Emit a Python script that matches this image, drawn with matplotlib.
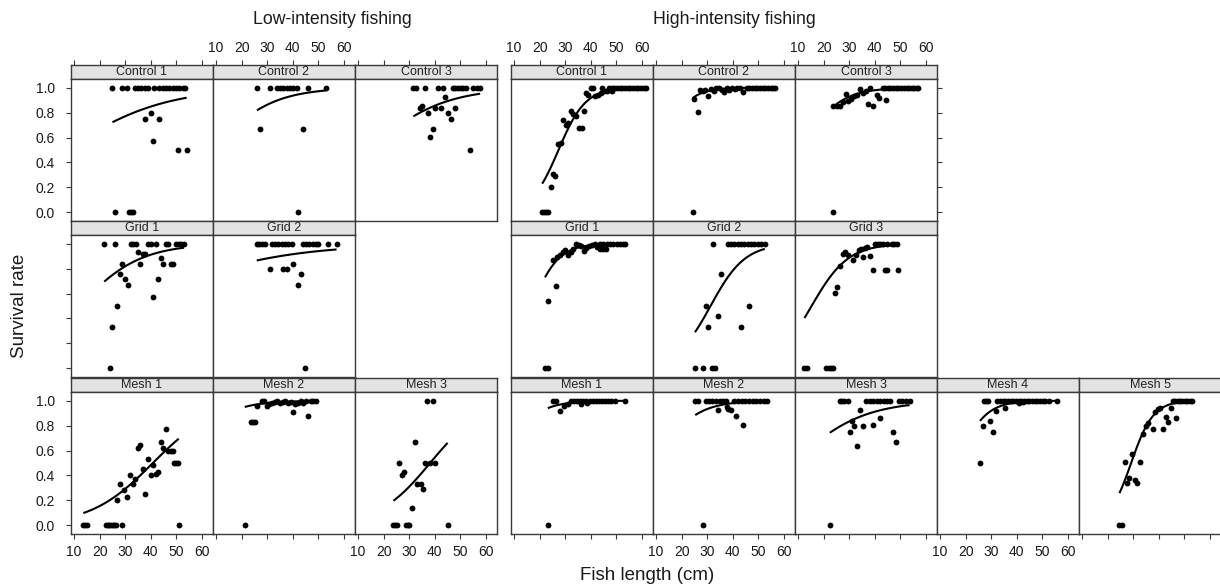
import numpy as np
import matplotlib
matplotlib.use("Agg")
import matplotlib.pyplot as plt

plt.rcParams['font.family'] = ['Liberation Sans', 'DejaVu Sans']

# ---------------- data ----------------
x_ticks = [10, 20, 30, 40, 50, 60]
y_ticks = [0.0, 0.2, 0.4, 0.6, 0.8, 1.0]
y_ticklabels = ["0.0", "0.2", "0.4", "0.6", "0.8", "1.0"]

# Low-intensity fishing
lo_c1_x = [25.0, 28.9, 30.6, 33.7, 35.0, 36.3, 37.6, 38.9, 41.3, 43.3, 44.6, 45.9, 47.2, 48.5, 49.8, 51.1, 52.4, 53.4,
           37.9, 43.0, 39.9, 41.0, 50.7, 54.0, 26.0, 31.6, 32.3, 33.2]
lo_c1_y = [1, 1, 1, 1, 1, 1, 1, 1, 1, 1, 1, 1, 1, 1, 1, 1, 1, 1,
           0.75, 0.75, 0.80, 0.57, 0.50, 0.50, 0, 0, 0, 0]
lo_c1_fit = (-0.316, 0.051)

lo_c2_x = [26.0, 31.0, 33.7, 35.0, 36.3, 37.6, 38.9, 40.2, 41.5, 46.1, 53.0, 27.1, 44.1, 41.9]
lo_c2_y = [1, 1, 1, 1, 1, 1, 1, 1, 1, 1, 1, 0.67, 0.67, 0]
lo_c2_fit = (-0.694, 0.0846)

lo_c3_x = [31.6, 32.7, 36.2, 41.1, 43.3, 47.0, 48.0, 49.1, 50.1, 51.1, 52.2, 55.0, 56.4, 57.7,
           34.1, 35.1, 37.2, 39.2, 38.2, 40.1, 42.3, 44.0, 45.0, 46.2, 48.0, 53.9]
lo_c3_y = [1, 1, 1, 1, 1, 1, 1, 1, 1, 1, 1, 1, 1, 1,
           0.836, 0.855, 0.80, 0.668, 0.603, 0.836, 0.836, 0.925, 0.80, 0.75, 0.836, 0.50]
lo_c3_fit = (-0.94, 0.068)

lo_g1_x = [21.8, 26.0, 32.1, 33.2, 34.2, 38.9, 40.0, 42.0, 45.8, 46.8, 49.8, 50.9, 51.9, 53.0,
           34.9, 36.8, 37.9, 35.9, 28.9, 28.0, 29.9, 31.0, 26.9, 25.0, 24.1, 40.7, 42.9, 43.9, 44.9, 47.8, 48.8]
lo_g1_y = [1, 1, 1, 1, 1, 1, 1, 1, 1, 1, 1, 1, 1, 1,
           0.933, 0.92, 0.92, 0.84, 0.84, 0.76, 0.72, 0.67, 0.50, 0.33, 0, 0.575, 0.72, 0.885, 0.84, 0.84, 0.84]
lo_g1_fit = (-0.977, 0.0828)

lo_g2_x = [25.9, 26.9, 28.0, 29.1, 31.8, 33.0, 34.3, 35.7, 37.0, 38.2, 39.6, 43.9, 45.2, 46.5, 47.8, 49.1, 50.0,
           53.9, 57.1, 31.1, 36.0, 37.9, 40.1, 43.1, 42.0, 44.9]
lo_g2_y = [1, 1, 1, 1, 1, 1, 1, 1, 1, 1, 1, 1, 1, 1, 1, 1, 1,
           1, 1, 0.80, 0.80, 0.80, 0.84, 0.76, 0.67, 0]
lo_g2_fit = (0.889, 0.0375)

lo_m1_x = [13.6, 14.3, 15.2, 22.5, 23.2, 23.8, 24.5, 25.1, 25.8, 26.4, 28.9, 50.9,
           26.9, 28.0, 29.7, 30.8, 31.9, 32.9, 33.8, 34.9, 35.8, 37.1, 37.9, 38.8, 40.0, 40.9, 41.9, 42.8,
           43.9, 44.9, 45.8, 46.8, 47.8, 48.8, 49.2, 49.8, 50.5]
lo_m1_y = [0, 0, 0, 0, 0, 0, 0, 0, 0, 0, 0, 0,
           0.20, 0.334, 0.28, 0.23, 0.40, 0.33, 0.37, 0.62, 0.645, 0.45, 0.25, 0.53, 0.40, 0.48, 0.41, 0.43,
           0.67, 0.62, 0.77, 0.60, 0.60, 0.60, 0.50, 0.50, 0.50]
lo_m1_fit = (-3.33, 0.0816)

lo_m2_x = [21.2, 23.6, 24.3, 25.1, 25.9, 27.8, 28.9, 29.8, 30.8, 31.9, 32.9, 33.9, 35.0, 36.0, 37.1, 38.1,
           39.2, 40.2, 41.0, 42.0, 43.1, 44.1, 45.2, 46.1, 47.0, 48.0, 49.1]
lo_m2_y = [0, 0.83, 0.83, 0.83, 0.96, 1.0, 1.0, 0.96, 0.97, 0.98, 0.99, 1.0, 0.98, 0.99, 1.0, 0.98,
           0.99, 0.91, 0.97, 0.98, 1.0, 0.98, 1.0, 0.88, 1.0, 1.0, 1.0]
lo_m2_fit = (0.46, 0.117)

lo_m3_x = [23.8, 24.5, 25.1, 28.8, 29.4, 30.0, 45.0, 26.1, 27.1, 28.0, 31.1, 32.1, 32.9, 34.5, 35.3, 36.2,
           37.1, 39.2, 38.1, 40.1]
lo_m3_y = [0, 0, 0, 0, 0, 0, 0, 0.5, 0.40, 0.43, 0.14, 0.67, 0.33, 0.33, 0.29, 0.5,
           1.0, 1.0, 0.5, 0.5]
lo_m3_fit = (-3.74, 0.098)

# High-intensity fishing
hi_c1_x = [21.0, 21.7, 22.4, 23.1, 24.3, 25.1, 26.0, 27.3, 28.2, 29.3, 30.2, 31.2, 32.3, 33.2, 34.1, 35.4,
           36.4, 37.2, 38.1, 39.0, 40.0, 41.0, 41.6, 42.7, 44.0, 45.0, 44.3, 46.2, 47.5, 48.2,
           47.1, 48.1, 49.2, 50.2, 51.3, 52.3, 53.4, 54.4, 55.4, 56.5, 57.5, 58.6, 59.6, 60.6, 61.4]
hi_c1_y = [0, 0, 0, 0, 0.20, 0.31, 0.29, 0.55, 0.56, 0.74, 0.70, 0.72, 0.81, 0.79, 0.77, 0.68,
           0.68, 0.81, 0.96, 0.94, 1.0, 1.0, 0.93, 0.945, 0.96, 0.97, 1.0, 0.97, 0.985, 0.97,
           1, 1, 1, 1, 1, 1, 1, 1, 1, 1, 1, 1, 1, 1, 1]
hi_c1_fit = (-5.2, 0.19)

hi_c2_x = [24.3, 26.4, 25.0, 27.2, 28.2, 29.3, 30.4, 31.5, 32.5, 33.6, 34.6, 35.7, 36.4, 37.6, 38.6, 39.7,
           40.7, 41.8, 42.8, 44.1, 45.4, 46.5, 47.5, 48.6, 49.6, 50.6, 51.7, 52.7, 53.8, 54.8, 55.8, 56.5]
hi_c2_y = [0, 0.804, 0.911, 0.978, 0.976, 0.984, 0.93, 0.992, 0.976, 0.997, 1.0, 0.984, 0.965, 0.997, 0.984, 0.997,
           0.992, 0.997, 1.0, 0.965, 1.0, 1, 1, 1, 1, 1, 1, 1, 1, 1, 1, 1]
hi_c2_fit = (-2.46, 0.2)

hi_c3_x = [23.5, 23.8, 25.1, 26.4, 27.4, 28.7, 29.6, 30.7, 31.8, 32.9, 34.4, 35.5, 36.5, 38.3, 37.4, 39.4,
           40.7, 41.7, 44.3, 43.0, 44.0, 45.1, 46.1, 47.2, 48.2, 49.2, 50.3, 51.3, 52.4, 53.4, 54.4, 55.5,
           56.5, 57.0]
hi_c3_y = [0, 0.85, 0.85, 0.857, 0.885, 0.95, 0.895, 0.91, 0.93, 0.945, 0.99, 0.957, 0.975, 1.0, 0.87, 0.855,
           0.94, 0.92, 0.90, 1, 1, 1, 1, 1, 1, 1, 1, 1, 1, 1, 1, 1,
           1, 1]
hi_c3_fit = (-1.44, 0.133)

hi_g1_x = [22.1, 23.2, 23.4, 26.4, 25.1, 26.9, 27.9, 29.2, 30.1, 31.2, 32.1, 33.1, 34.2, 35.2, 36.3, 37.3,
           38.3, 39.4, 40.4, 41.6, 42.5, 43.6, 44.9, 45.9, 43.6, 44.9, 46.2, 47.5, 48.8, 50.1, 51.4, 52.5, 53.4]
hi_g1_y = [0, 0, 0.543, 0.664, 0.866, 0.89, 0.906, 0.933, 0.946, 0.91, 0.933, 0.96, 1.0, 0.99, 0.98, 0.94,
           0.965, 0.98, 0.987, 1.0, 0.973, 0.96, 0.955, 0.955, 1, 1, 1, 1, 1, 1, 1, 1, 1]
hi_g1_fit = (-3.18, 0.189)

hi_g2_x = [25.2, 28.5, 31.8, 33.0, 29.4, 30.4, 34.3, 35.3, 32.4, 43.3, 46.3,
           38.0, 39.3, 40.6, 41.9, 43.2, 44.5, 45.8, 47.1, 48.4, 49.7, 51.0, 52.5]
hi_g2_y = [0, 0, 0, 0, 0.503, 0.333, 0.42, 0.758, 1.0, 0.333, 0.503,
           1, 1, 1, 1, 1, 1, 1, 1, 1, 1, 1, 1]
hi_g2_fit = (-4.63, 0.148)

hi_g3_x = [12.5, 13.4, 20.9, 22.0, 22.8, 23.5, 24.5, 25.4, 26.4, 27.4, 28.5, 29.5, 31.3, 32.6, 33.7, 34.7,
           36.1, 35.5, 37.1, 38.1, 39.1, 44.0, 44.9, 49.2, 40.1, 41.1, 42.0, 43.1, 44.6, 46.6, 47.6, 48.8]
hi_g3_y = [0, 0, 0, 0, 0, 0, 0.605, 0.65, 0.825, 0.92, 0.93, 0.91, 0.866, 0.91, 0.946, 0.96,
           0.965, 0.89, 0.97, 0.90, 0.79, 0.79, 0.79, 0.79, 1, 1, 1, 1, 1, 1, 1, 1]
hi_g3_fit = (-2.14, 0.14)

hi_m1_x = [23.2, 27.9, 25.2, 26.4, 29.6, 31.1, 32.3, 33.5, 34.7, 35.9, 37.1, 38.3, 39.5, 40.7, 41.9, 43.1,
           44.3, 45.5, 46.7, 47.9, 49.4, 53.3, 36.3, 38.6]
hi_m1_y = [0, 0.917, 1, 1, 0.957, 0.976, 1, 1, 1, 1, 1, 1, 1, 1, 1, 1,
           1, 1, 1, 1, 1, 1, 0.976, 0.984]
hi_m1_fit = (-0.68, 0.148)

hi_m2_x = [28.5, 25.3, 26.5, 29.4, 30.7, 31.9, 33.4, 34.8, 36.2, 37.3, 40.5, 42.0, 43.4, 44.8, 46.3, 47.7,
           49.1, 50.6, 52.0, 53.4, 34.3, 38.2, 39.3, 41.3, 44.1, 37.8]
hi_m2_y = [0, 1, 1, 1, 1, 1, 1, 1, 1, 1, 1, 1, 1, 1, 1, 1,
           1, 1, 1, 1, 0.922, 0.936, 0.922, 0.877, 0.805, 0.952]
hi_m2_fit = (-1.20, 0.128)

hi_m3_x = [22.4, 26.3, 27.2, 28.1, 29.4, 36.5, 38.0, 39.2, 40.7, 42.1, 43.5, 44.8, 46.1, 49.3, 50.7, 52.1,
           53.6, 30.4, 32.0, 34.4, 35.2, 33.1, 31.2, 39.2, 42.1, 47.1, 48.2]
hi_m3_y = [0, 1, 1, 1, 1, 1, 1, 1, 1, 1, 1, 1, 1, 1, 1, 1,
           1, 0.751, 0.797, 0.922, 0.797, 0.636, 0.837, 0.805, 0.864, 0.751, 0.668]
hi_m3_fit = (-0.56, 0.0724)

hi_m4_x = [27.2, 28.0, 28.9, 32.4, 33.4, 34.5, 35.5, 36.6, 37.6, 38.6, 39.7, 40.7, 41.8, 42.8, 43.9, 44.9,
           45.9, 47.0, 48.0, 49.1, 50.1, 51.1, 52.7, 55.6, 25.6, 26.7, 29.5, 30.6, 31.8, 35.5, 40.7, 42.3]
hi_m4_y = [1, 1, 1, 1, 1, 1, 1, 1, 1, 1, 1, 1, 1, 1, 1, 1,
           1, 1, 1, 1, 1, 1, 1, 1, 0.503, 0.80, 0.837, 0.75, 0.917, 0.94, 0.985, 0.99]
hi_m4_fit = (-3.02, 0.182)

hi_m5_x = [24.6, 25.5, 26.8, 27.7, 28.5, 29.7, 30.7, 31.6, 32.7, 33.9, 34.9, 35.9, 37.6, 38.5, 39.6, 40.5,
           41.8, 42.7, 43.7, 44.8, 46.6, 45.4, 46.3, 47.3, 48.2, 49.1, 50.1, 51.1, 52.0, 52.8]
hi_m5_y = [0, 0, 0.51, 0.342, 0.382, 0.57, 0.364, 0.342, 0.51, 0.73, 0.80, 0.82, 0.77, 0.91, 0.93, 0.944,
           0.775, 0.87, 0.83, 0.944, 0.86, 1, 1, 1, 1, 1, 1, 1, 1, 1]
hi_m5_fit = (-6.74, 0.231)

# ---------------- layout ----------------
W, H = 1220, 585
fig = plt.figure(figsize=(W / 100, H / 100), dpi=100)

LOW_LEFT, HIGH_LEFT = 71, 511
COL_W = 142
ROW_TOP = [65, 221, 378]
STRIP_H = 14
PANEL_H = 142
XLIM = (8.8, 64.3)
YLIM = (-0.07, 1.07)
FRAME = '#3a3a3a'
TICK_KW = dict(length=3.6, width=0.8, color=FRAME, labelsize=10, labelcolor='#1a1a1a')


def px_axes(x0, y0, w, h):
    return fig.add_axes([x0 / W, 1 - (y0 + h) / H, w / W, h / H])


panels = [
    # block, col, row, label, x, y, fit
    ('low', 0, 0, 'Control 1', lo_c1_x, lo_c1_y, lo_c1_fit),
    ('low', 1, 0, 'Control 2', lo_c2_x, lo_c2_y, lo_c2_fit),
    ('low', 2, 0, 'Control 3', lo_c3_x, lo_c3_y, lo_c3_fit),
    ('low', 0, 1, 'Grid 1', lo_g1_x, lo_g1_y, lo_g1_fit),
    ('low', 1, 1, 'Grid 2', lo_g2_x, lo_g2_y, lo_g2_fit),
    ('low', 0, 2, 'Mesh 1', lo_m1_x, lo_m1_y, lo_m1_fit),
    ('low', 1, 2, 'Mesh 2', lo_m2_x, lo_m2_y, lo_m2_fit),
    ('low', 2, 2, 'Mesh 3', lo_m3_x, lo_m3_y, lo_m3_fit),
    ('high', 0, 0, 'Control 1', hi_c1_x, hi_c1_y, hi_c1_fit),
    ('high', 1, 0, 'Control 2', hi_c2_x, hi_c2_y, hi_c2_fit),
    ('high', 2, 0, 'Control 3', hi_c3_x, hi_c3_y, hi_c3_fit),
    ('high', 0, 1, 'Grid 1', hi_g1_x, hi_g1_y, hi_g1_fit),
    ('high', 1, 1, 'Grid 2', hi_g2_x, hi_g2_y, hi_g2_fit),
    ('high', 2, 1, 'Grid 3', hi_g3_x, hi_g3_y, hi_g3_fit),
    ('high', 0, 2, 'Mesh 1', hi_m1_x, hi_m1_y, hi_m1_fit),
    ('high', 1, 2, 'Mesh 2', hi_m2_x, hi_m2_y, hi_m2_fit),
    ('high', 2, 2, 'Mesh 3', hi_m3_x, hi_m3_y, hi_m3_fit),
    ('high', 3, 2, 'Mesh 4', hi_m4_x, hi_m4_y, hi_m4_fit),
    ('high', 4, 2, 'Mesh 5', hi_m5_x, hi_m5_y, hi_m5_fit),
]

for block, col, row, label, xs, ys, fit in panels:
    left = (LOW_LEFT if block == 'low' else HIGH_LEFT) + col * COL_W
    top = ROW_TOP[row]

    # strip
    sax = px_axes(left, top, COL_W, STRIP_H)
    sax.set_facecolor('#e3e3e3')
    sax.set_xlim(*XLIM)
    sax.set_ylim(0, 1)
    sax.set_yticks([])
    for sp in sax.spines.values():
        sp.set_color(FRAME)
        sp.set_linewidth(1.0)
    sax.text(0.5, 0.47, label, transform=sax.transAxes, ha='center', va='center',
             fontsize=9, color='#222222')
    if row == 0:
        sax.xaxis.set_ticks_position('top')
        sax.set_xticks(x_ticks)
        top_label = (block == 'low' and col == 1) or (block == 'high' and col in (0, 2))
        sax.tick_params(axis='x', which='both', top=True, bottom=False, labeltop=top_label,
                        labelbottom=False, pad=3.5, **TICK_KW)
    else:
        sax.set_xticks([])

    # main panel
    ax = px_axes(left, top + STRIP_H, COL_W, PANEL_H)
    ax.set_xlim(*XLIM)
    ax.set_ylim(*YLIM)
    for sp in ax.spines.values():
        sp.set_color(FRAME)
        sp.set_linewidth(1.0)
    ax.set_xticks(x_ticks)
    ax.set_yticks(y_ticks)
    ax.set_yticklabels(y_ticklabels)
    ax.tick_params(axis='both', left=False, right=False, top=False, bottom=False,
                   labelleft=False, labelright=False, labeltop=False, labelbottom=False, **TICK_KW)
    if row == 2:
        bottom_label = (block == 'low' and col in (0, 2)) or (block == 'high' and col in (1, 3))
        ax.tick_params(axis='x', bottom=True, labelbottom=bottom_label, pad=4)
    if block == 'low' and col == 0:
        ax.tick_params(axis='y', left=True, labelleft=(row != 1), pad=8)
    if block == 'high' and ((row == 0 and col == 2) or (row == 2 and col == 4)):
        ax.tick_params(axis='y', right=True, labelright=False)

    xarr = np.asarray(xs, dtype=float)
    yarr = np.asarray(ys, dtype=float)
    a, b = fit
    xc = np.linspace(xarr.min(), xarr.max(), 120)
    yc = 1.0 / (1.0 + np.exp(-(a + b * xc)))
    ax.plot(xc, yc, color='black', lw=1.5, zorder=3, solid_capstyle='butt')
    ax.plot(xarr, yarr, 'o', color='black', ms=4.2, mew=0, zorder=4, clip_on=False)

# titles and axis labels
fig.text(332 / W, 1 - 19 / H, 'Low-intensity fishing', ha='center', va='center', fontsize=12.7, color='#1a1a1a')
fig.text(734 / W, 1 - 19 / H, 'High-intensity fishing', ha='center', va='center', fontsize=12.7, color='#1a1a1a')
fig.text(20 / W, 1 - 306 / H, 'Survival rate', ha='center', va='center', rotation=90, fontsize=13.5, color='#1a1a1a')
fig.text(647 / W, 1 - 576 / H, 'Fish length (cm)', ha='center', va='center', fontsize=13.5, color='#1a1a1a')

fig.savefig('out.png', dpi=100)
